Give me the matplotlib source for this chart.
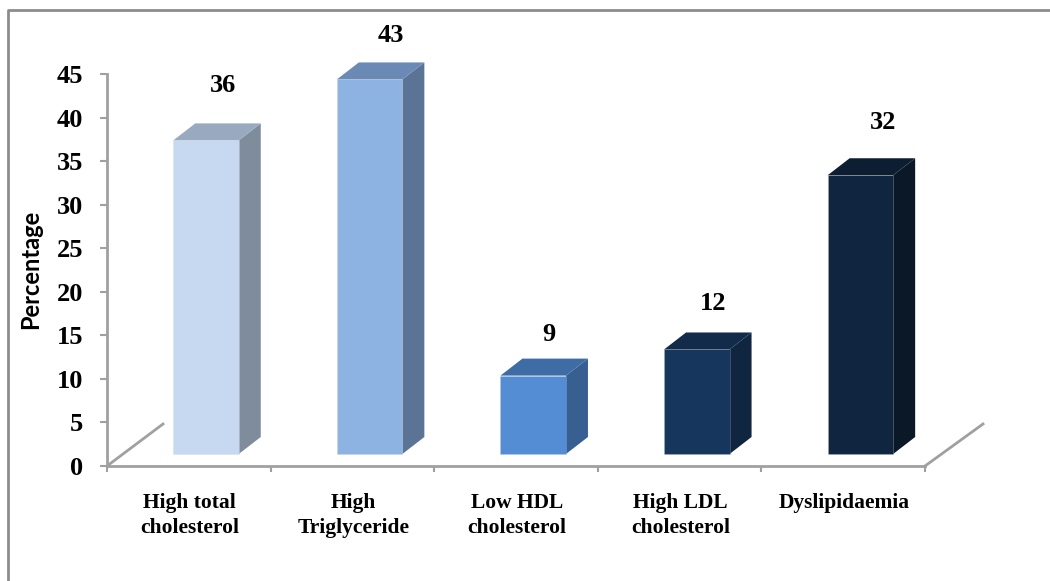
import matplotlib.pyplot as plt
from matplotlib.patches import Polygon
from matplotlib.lines import Line2D

categories = ["High total\ncholesterol", "High\nTriglyceride", "Low HDL\ncholesterol",
              "High LDL\ncholesterol", "Dyslipidaemia"]
values = [36, 43, 9, 12, 32]
y_ticks = [0, 5, 10, 15, 20, 25, 30, 35, 40, 45]

front_colors = ["#c6d9f1", "#8db3e2", "#548dd4", "#17365d", "#10253f"]
side_colors = ["#7f8c9c", "#5b7395", "#375f92", "#0f2540", "#0b1828"]
top_colors = ["#99a9bf", "#6a8ab5", "#3e6ca5", "#122b4b", "#0d1e33"]

# where the number sits relative to the top front corner of its bar, in pixels
label_shift_x = [17, 21, 16, 16, 23]
label_shift_y = [55, 44, 41, 46, 53]

W, H = 1050, 581
GREY = "#a0a0a0"

fig = plt.figure(figsize=(W / 100, H / 100), dpi=100, facecolor="white")
ax = fig.add_axes([107 / W, 1 - 466 / H, (925 - 107) / W, (466 - 74) / H])
ax.set_xlim(0, 5)
ax.set_ylim(0, 45)
ax.patch.set_alpha(0)

# sizes of the fake 3d, in data units
px_x = 5 / (925 - 107)
px_y = 45 / (466 - 74)
bar_w = 65.5 * px_x
floor = 12 * px_y
dx = 22 * px_x
dy = 17 * px_y

for i, v in enumerate(values):
    left = i + 0.405
    right = left + bar_w
    top = floor + v
    ax.bar(left, v, width=bar_w, bottom=floor, align="edge", color=front_colors[i],
           edgecolor=(0.8, 0.8, 0.8, 0.25), linewidth=0.6, zorder=3, clip_on=False)
    ax.add_patch(Polygon([(right, floor), (right + dx, floor + dy), (right + dx, top + dy), (right, top)],
                         facecolor=side_colors[i], edgecolor="none", zorder=2, clip_on=False))
    ax.add_patch(Polygon([(left, top), (left + dx, top + dy), (right + dx, top + dy), (right, top)],
                         facecolor=top_colors[i], edgecolor="none", zorder=2, clip_on=False))
    ax.text(left + bar_w / 2 + label_shift_x[i] * px_x, top + label_shift_y[i] * px_y, str(v),
            ha="center", va="center", family="Liberation Serif", fontweight="bold",
            fontsize=19, color="black", zorder=4)

# floor edges running back from the axis line
ax.plot([0, 56 * px_x], [0, 42 * px_y], color=GREY, lw=2, clip_on=False, zorder=1)
ax.plot([5, 5 + 58 * px_x], [0, 42 * px_y], color=GREY, lw=2, clip_on=False, zorder=1)

for side in ["top", "right"]:
    ax.spines[side].set_visible(False)
for side in ["left", "bottom"]:
    ax.spines[side].set_color(GREY)
    ax.spines[side].set_linewidth(2)

ax.set_yticks(y_ticks)
ax.set_yticklabels([str(t) for t in y_ticks], family="Liberation Serif", fontweight="bold", fontsize=19)
ax.tick_params(axis="y", length=5, width=1.5, color=GREY, pad=12)
ax.set_xticks(range(6))
ax.set_xticklabels([""] * 6)
ax.tick_params(axis="x", length=4.5, width=1.5, color=GREY)

for i, c in enumerate(categories):
    ax.text(i + 0.505, -27 * px_y, c, ha="center", va="top", family="Liberation Serif",
            fontweight="bold", fontsize=15.5, linespacing=1.32, color="black")

fig.text(31 / W, 1 - 269 / H, "Percentage", rotation=90, ha="center", va="center",
         family="Lato", fontweight="bold", fontsize=17, color="black")

# border of the chart area, only left and top are inside the frame
fig.add_artist(Line2D([8 / W, 8 / W, 1], [0, 1 - 9.5 / H, 1 - 9.5 / H], transform=fig.transFigure,
                      color="#8c8c8c", linewidth=2))

fig.savefig("out.png", dpi=100)
